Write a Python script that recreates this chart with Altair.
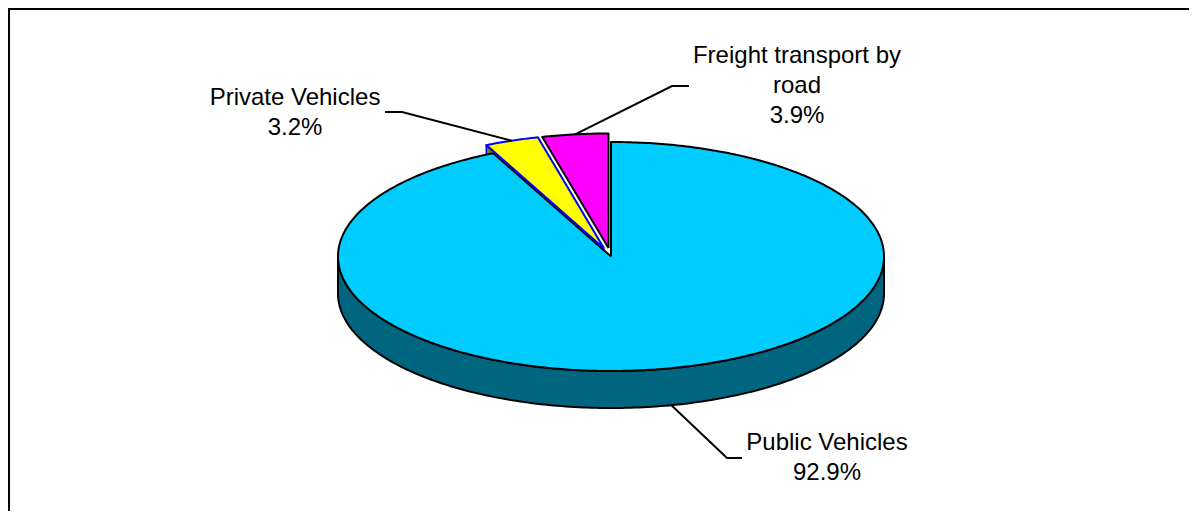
import altair as alt
import pandas as pd
import numpy as np

# ---------------- data ----------------
categories = ["Public Vehicles", "Private Vehicles", "Freight transport by road"]
shares = [92.9, 3.2, 3.9]
pct_labels = ["92.9%", "3.2%", "3.9%"]
label_lines = [["Public Vehicles", "92.9%"],
               ["Private Vehicles", "3.2%"],
               ["Freight transport by", "road", "3.9%"]]

# ---------------- styles / layout ----------------
top_colors = ["#00CCFF", "#FFFF00", "#FF00FF"]
side_colors = ["#006680", "#808000", "#800080"]
edge_colors = ["#000000", "#0000FF", "#000000"]
explode = [0.0, 0.075, 0.075]

W, H = 1181, 503
CX, CY, RX, RY, DEPTH = 611.0, 256.5, 273.0, 114.5, 37.0
FONT = "Liberation Sans"
FS = 24
LINE_H = 30

label_x = [827, 295, 797]
label_y0 = [450, 105, 63]
elbows = [[(742, 458), (727, 458)],
          [(385, 112), (402, 112)],
          [(689, 86), (672, 86)]]

X = alt.X("x:Q", scale=alt.Scale(domain=[8, 8 + W], nice=False, zero=False), axis=None)
Y = alt.Y("y:Q", scale=alt.Scale(domain=[8, 8 + H], nice=False, zero=False, reverse=True), axis=None)


def proj(theta_deg, dx=0.0, dy=0.0, dz=0.0):
    t = np.radians(theta_deg)
    return CX + RX * np.sin(t) + dx, CY - RY * np.cos(t) + dy + dz


# angles from the shares (clockwise from 12 o'clock)
total = sum(shares)
bounds = np.concatenate([[0.0], np.cumsum(shares) / total * 360.0])
offsets = []
for i in range(len(shares)):
    mid = np.radians((bounds[i] + bounds[i + 1]) / 2)
    offsets.append((RX * explode[i] * np.sin(mid), -RY * explode[i] * np.cos(mid)))


def sector_df(i, dz=0.0):
    a0, a1 = bounds[i], bounds[i + 1]
    dx, dy = offsets[i]
    th = np.linspace(a0, a1, max(4, int((a1 - a0) * 1.5)))
    xs, ys = proj(th, dx, dy, dz)
    cx, cy = CX + dx, CY + dy + dz
    px = [cx] + list(xs) + [cx]
    py = [cy] + list(ys) + [cy]
    return pd.DataFrame({"x": px, "y": py, "i": range(len(px))})


def side_df(i, a0, a1):
    dx, dy = offsets[i]
    th = np.linspace(a0, a1, 200)
    x1, y1 = proj(th, dx, dy)
    x2, y2 = proj(th[::-1], dx, dy, DEPTH)
    px = list(x1) + list(x2) + [x1[0]]
    py = list(y1) + list(y2) + [y1[0]]
    return pd.DataFrame({"x": px, "y": py, "i": range(len(px))})


def cut_df(i, a):
    dx, dy = offsets[i]
    rx, ry = proj(a, dx, dy)
    cx, cy = CX + dx, CY + dy
    px = [cx, rx, rx, cx, cx]
    py = [cy, ry, ry + DEPTH, cy + DEPTH, cy]
    return pd.DataFrame({"x": px, "y": py, "i": range(len(px))})


def poly(df, fill, stroke, sw=2.0):
    return alt.Chart(df).mark_line(fill=fill, stroke=stroke, strokeWidth=sw,
                                   strokeJoin="round", interpolate="linear").encode(
        x=X, y=Y, order="i:Q")


layers = []
# front side wall of the big slice
layers.append(poly(side_df(0, 90, 270), side_colors[0], "#000000"))
# cut face of exploded small slice
layers.append(poly(cut_df(1, bounds[1]), side_colors[1], edge_colors[1], 1.5))
# top faces
for i in range(len(shares)):
    layers.append(poly(sector_df(i), top_colors[i], edge_colors[i], 2.0))

# leader lines
rows = []
for i in range(len(shares)):
    a0, a1 = bounds[i], bounds[i + 1]
    mid = (a0 + a1) / 2
    dx, dy = offsets[i]
    ax, ay = proj(mid, dx, dy)
    if np.cos(np.radians(mid)) < 0:  # front: attach to bottom of the wall
        ay = ay + DEPTH
    pts = elbows[i] + [(ax, ay)]
    for k, (px, py) in enumerate(pts):
        rows.append({"x": px, "y": py, "i": k, "id": categories[i]})
leaders = alt.Chart(pd.DataFrame(rows)).mark_line(color="black", strokeWidth=2).encode(
    x=X, y=Y, order="i:Q", detail="id:N")
layers.append(leaders)

# labels
trows = []
for i in range(len(shares)):
    for k, line in enumerate(label_lines[i]):
        trows.append({"x": label_x[i], "y": label_y0[i] + k * LINE_H, "t": line})
texts = alt.Chart(pd.DataFrame(trows)).mark_text(
    align="center", baseline="alphabetic", font=FONT, fontSize=FS, color="black").encode(
    x=X, y=Y, text="t:N")
layers.append(texts)

# frame (top and left edges visible)
one = pd.DataFrame({"a": [0]})
frame_top = alt.Chart(one).mark_rule(color="black", strokeWidth=3).encode(
    x=alt.value(0), x2=alt.value(W), y=alt.value(0.5))
frame_left = alt.Chart(one).mark_rule(color="black", strokeWidth=3).encode(
    x=alt.value(0.5), y=alt.value(0), y2=alt.value(H))
layers += [frame_top, frame_left]

chart = alt.layer(*layers).properties(
    width=W, height=H, padding=0, autosize=alt.AutoSizeParams(type="none")
).configure_view(stroke=None).configure(background="white")

chart.save("out.html", embed_options={"renderer": "svg", "actions": False})
